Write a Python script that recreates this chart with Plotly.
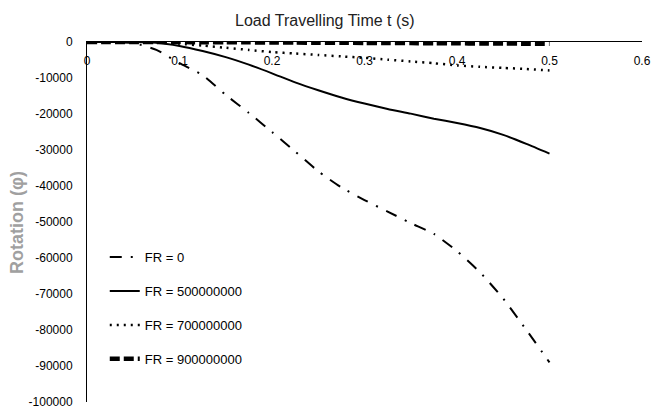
import plotly.graph_objects as go

t = [0, 0.025, 0.05, 0.075, 0.1, 0.125, 0.15, 0.175, 0.2, 0.225, 0.25,
     0.275, 0.3, 0.325, 0.35, 0.375, 0.4, 0.425, 0.45, 0.475, 0.5]

fr_0 = [0, 0, -300, -2200, -5900, -9200, -14700, -19700, -25000, -30400, -35900,
        -40400, -43900, -47100, -50300, -53300, -58100, -64000, -71300, -80000, -89000]
fr_5e8 = [0, 0, 0, -200, -1100, -2500, -4200, -6300, -8700, -11200, -13400,
          -15400, -17100, -18600, -19900, -21300, -22500, -23900, -25800, -28300, -31000]
fr_7e8 = [0, 0, 0, -100, -500, -1000, -1600, -2200, -2800, -3200, -3600,
          -4000, -4400, -4900, -5400, -5900, -6500, -6900, -7200, -7500, -7900]
fr_9e8 = [0, 0, 0, -10, -30, -50, -80, -100, -130, -160, -190,
          -220, -250, -280, -310, -340, -370, -400, -430, -460, -500]

names = ["FR = 0", "FR = 500000000", "FR = 700000000", "FR = 900000000"]

x_ticks = [0, 0.1, 0.2, 0.3, 0.4, 0.5, 0.6]
x_tick_text = ["0", "0.1", "0.2", "0.3", "0.4", "0.5", "0.6"]
y_ticks = [0, -10000, -20000, -30000, -40000, -50000, -60000, -70000, -80000, -90000, -100000]
y_tick_text = ["0", "-10000", "-20000", "-30000", "-40000", "-50000", "-60000",
               "-70000", "-80000", "-90000", "-100000"]

FONT = "Liberation Sans, Arial, sans-serif"

styles = [
    dict(color="black", width=2, dash="12px,9px,2px,9px"),
    dict(color="black", width=2, dash="solid"),
    dict(color="black", width=2.5, dash="2px,5px"),
    dict(color="black", width=4.5, dash="10px,4px"),
]

fig = go.Figure()
for i, (name, ys, st) in enumerate(zip(names, [fr_0, fr_5e8, fr_7e8, fr_9e8], styles)):
    fig.add_trace(go.Scatter(x=t, y=ys, mode="lines", name=name, legendgroup=f"g{i}",
                             line=dict(shape="spline", smoothing=0.6, **st)))

# invisible helper so the tick-label axis (x2) is rendered
fig.add_trace(go.Scatter(x=[t[0]], y=[fr_0[0]], xaxis="x2", mode="markers",
                         marker=dict(opacity=0), showlegend=False, hoverinfo="skip"))

fig.update_layout(
    width=652, height=414,
    margin=dict(l=87, r=10, t=42, b=12),
    paper_bgcolor="white", plot_bgcolor="white",
    font=dict(family=FONT, size=12, color="black"),
    showlegend=True,
    legend=dict(x=0.032, y=0.444, xanchor="left", yanchor="top",
                bgcolor="rgba(0,0,0,0)", font=dict(size=13, family=FONT),
                tracegroupgap=14, itemwidth=30),
    xaxis=dict(
        range=[0, 0.6], side="top", showticklabels=False, automargin=False,
        showgrid=False, zeroline=False,
        showline=True, linecolor="black", linewidth=1, ticks="",
    ),
    xaxis2=dict(
        matches="x", overlaying="x", anchor="free", position=1, side="bottom",
        tickvals=x_ticks, ticktext=x_tick_text, showgrid=False, zeroline=False,
        showline=False, ticks="", automargin=False, ticklabelstandoff=10,
        tickfont=dict(size=12, family=FONT),
    ),
    yaxis=dict(
        range=[-100000, 0], tickvals=y_ticks, ticktext=y_tick_text,
        showgrid=False, zeroline=False, showline=True, linecolor="black",
        linewidth=1, ticks="", ticklabelstandoff=11, automargin=False,
        tickfont=dict(size=12, family=FONT),
    ),
    annotations=[
        dict(text="Load Travelling Time t (s)", x=0.4288, xref="paper",
             y=1.061, yref="paper", xanchor="center", yanchor="middle",
             showarrow=False, font=dict(size=16, color="#222222", family=FONT)),
        dict(text="<b>Rotation (φ)</b>", textangle=-90, x=-0.1262, xref="paper",
             y=0.5, yref="paper", xanchor="center", yanchor="middle", showarrow=False,
             font=dict(size=18, color="#a0a0a0", family=FONT)),
    ],
)

fig.write_html("out.html",
               config={"displayModeBar": False, "staticPlot": True},
               post_script="document.body.style.margin='0';"
                           "document.body.style.overflow='hidden';")
